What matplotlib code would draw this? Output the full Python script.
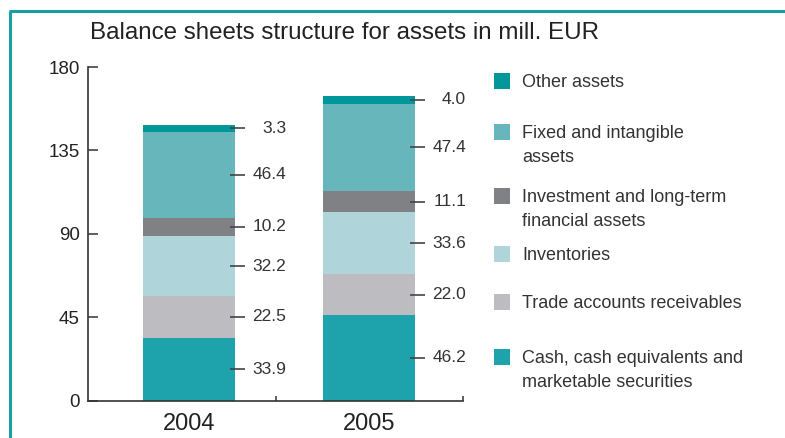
import matplotlib
matplotlib.use("Agg")
import matplotlib.pyplot as plt
from matplotlib.patches import Rectangle
from matplotlib.lines import Line2D

plt.rcParams['font.family'] = ['Liberation Sans', 'DejaVu Sans']

years = ["2004", "2005"]
categories = ["Cash, cash equivalents and\nmarketable securities",
              "Trade accounts receivables",
              "Inventories",
              "Investment and long-term\nfinancial assets",
              "Fixed and intangible\nassets",
              "Other assets"]
cash = [33.9, 46.2]
trade = [22.5, 22.0]
inventories = [32.2, 33.6]
investment = [10.2, 11.1]
fixed_assets = [46.4, 47.4]
other = [3.3, 4.0]
series = [cash, trade, inventories, investment, fixed_assets, other]
colors = ["#1ea2ab", "#bdbdc1", "#afd5da", "#808185", "#67b6bb", "#00979b"]
yticks = [0, 45, 90, 135, 180]

W, H = 785, 438
fig = plt.figure(figsize=(W / 100, H / 100), dpi=100)

# frame
frame_col = "#16a0a5"
fig.add_artist(Line2D([10 / W, 10 / W], [0, 1 - 10.5 / H], transform=fig.transFigure,
                      color=frame_col, lw=2.2, solid_capstyle='butt'))
fig.add_artist(Line2D([9 / W, 1], [1 - 10.5 / H, 1 - 10.5 / H], transform=fig.transFigure,
                      color=frame_col, lw=2.2, solid_capstyle='butt'))

ax_l, ax_r, ax_b, ax_t = 88, 463, 400.7, 67
ax = fig.add_axes([ax_l / W, 1 - ax_b / H, (ax_r - ax_l) / W, (ax_b - ax_t) / H])
ax.set_xlim(0, 2)
ax.set_ylim(0, 180)

xpos = [0.54, 1.5]
width = 0.49
bottoms = [0.0, 0.0]
px = 2.0 / (ax_r - ax_l)
for vals, col in zip(series, colors):
    ax.bar(xpos, vals, width=width, bottom=bottoms, color=col, edgecolor='none', zorder=2)
    for i, v in enumerate(vals):
        mid = bottoms[i] + v / 2
        right = xpos[i] + width / 2
        ax.plot([right - 5 * px, right + 10 * px], [mid, mid], color="#444444", lw=1.2,
                zorder=3, clip_on=False, solid_capstyle='butt')
        ax.annotate(f"{v:.1f}", xy=(right, mid), xytext=(51 * 0.72, 0),
                    textcoords='offset points', ha='right', va='center',
                    fontsize=12.5, color="#333333", annotation_clip=False)
    bottoms = [b + v for b, v in zip(bottoms, vals)]

for s in ['top', 'right']:
    ax.spines[s].set_visible(False)
for s in ['left', 'bottom']:
    ax.spines[s].set_color("#333333")
    ax.spines[s].set_linewidth(1.2)

ax.set_yticks(yticks)
ax.set_yticklabels([str(t) for t in yticks])
ax.tick_params(axis='y', direction='in', length=7.2, width=1.1, color="#333333",
               labelsize=13.5, labelcolor="#222222", pad=5.8)
ax.set_xticks(xpos)
ax.set_xticklabels(years)
ax.tick_params(axis='x', which='major', length=0, labelsize=17, labelcolor="#222222", pad=8.5)
ax.set_xticks([1.0, 2.0], minor=True)
ax.tick_params(axis='x', which='minor', direction='in', length=3.8, width=1.1, color="#333333")

fig.text(90 / W, 1 - 39 / H, "Balance sheets structure for assets in mill. EUR",
         fontsize=17.4, color="#222222", ha='left', va='baseline')

# legend
leg_rows = [357, 302, 254, 196, 132, 81]
for lab, col, yc in zip(categories, colors, leg_rows):
    fig.add_artist(Rectangle((494 / W, 1 - (yc + 8) / H), 16 / W, 16 / H,
                             transform=fig.transFigure, facecolor=col, edgecolor='none'))
    fig.text(522 / W, 1 - (yc - 7) / H, lab, fontsize=13, color="#333333",
             ha='left', va='top', linespacing=1.55)

fig.savefig("out.png", dpi=100)
